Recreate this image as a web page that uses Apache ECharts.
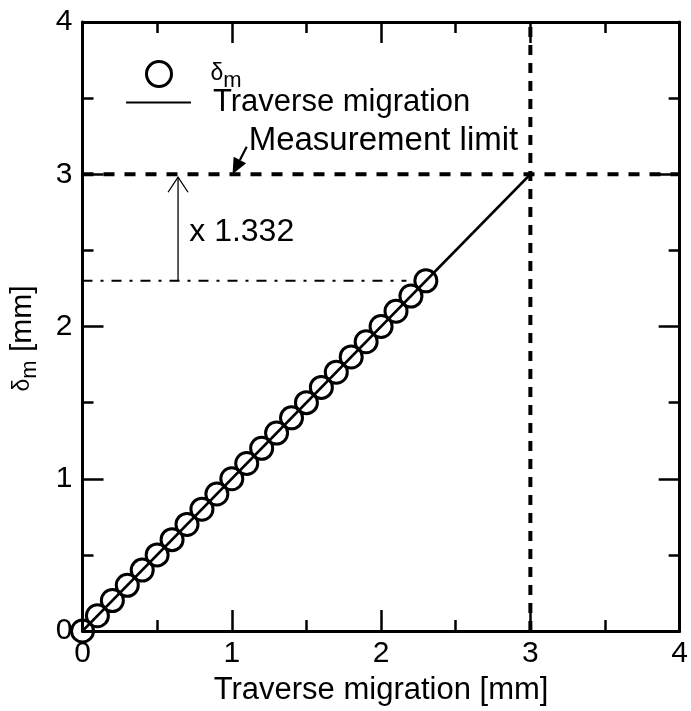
<!DOCTYPE html>
<html><head><meta charset="utf-8">
<script src="https://cdn.jsdelivr.net/npm/echarts@6/dist/echarts.min.js"></script>
<style>html,body{margin:0;padding:0;background:#fff}#c{width:691px;height:711px}</style>
</head><body><div id="c"></div>
<script>
// ---- data ----
const xTicks = [0, 1, 2, 3, 4];
const yTicks = [0, 1, 2, 3, 4];
const migration = [0, 0.1, 0.2, 0.3, 0.4, 0.5, 0.6, 0.7, 0.8, 0.9, 1.0, 1.1, 1.2, 1.3, 1.4, 1.5, 1.6, 1.7, 1.8, 1.9, 2.0, 2.1, 2.2, 2.3];
const deltaM    = [0, 0.1, 0.2, 0.3, 0.4, 0.5, 0.6, 0.7, 0.8, 0.9, 1.0, 1.1, 1.2, 1.3, 1.4, 1.5, 1.6, 1.7, 1.8, 1.9, 2.0, 2.1, 2.2, 2.3];
const lineX = [0, 3];
const lineY = [0, 3];
const limitValue = 3;
const lastDelta = 2.3;
const dashDotEndX = 2.17;
const arrowX = 0.64;
const ratioText = 'x 1.332';
const limitText = 'Measurement limit';

const FONT = 'Liberation Sans, Arial, sans-serif';
const axMin = xTicks[0], axMax = xTicks[xTicks.length - 1];

const chart = echarts.init(document.getElementById('c'), null, {renderer: 'canvas'});

function axisCommon(showLabel, margin) {
  return {
    type: 'value', min: axMin, max: axMax, interval: 1,
    axisLine: {show: true, onZero: false, lineStyle: {color: '#000', width: 3}},
    axisTick: {show: true, inside: true, length: 21, lineStyle: {color: '#000', width: 2.5}},
    minorTick: {show: true, splitNumber: 2, length: 11, lineStyle: {color: '#000', width: 2.5}},
    splitLine: {show: false},
    axisLabel: {show: showLabel, color: '#000', fontSize: 30, fontFamily: FONT, margin: margin || 8},
  };
}

const scatterData = migration.map((x, i) => [x, deltaM[i]]);
const lineData = lineX.map((x, i) => [x, lineY[i]]);

const subRich = {
  g: {width: 34, fontSize: 23},
  d: {fontSize: 23, fontFamily: FONT, color: '#000'},
  s: {fontSize: 22, fontFamily: FONT, color: '#000', padding: [13, 0, 0, 0]},
  b: {fontSize: 30, fontFamily: FONT, color: '#000'}
};

chart.setOption({
  animation: false,
  grid: {left: 81, right: 6, top: 22, bottom: 80},
  legend: [
    {
      left: 145, top: 60, orient: 'vertical', itemWidth: 25, itemHeight: 25, padding: 0,
      itemStyle: {color: 'rgba(0,0,0,0)', borderColor: '#000', borderWidth: 3, opacity: 1},
      textStyle: {color: '#000', fontSize: 23, fontFamily: FONT, rich: subRich},
      formatter: function () { return '{g|}{d|δ}{s|m}'; },
      data: [{name: 'dm'}]
    },
    {
      left: 125, top: 87, orient: 'vertical', itemWidth: 65, itemHeight: 25, padding: 0,
      textStyle: {color: '#000', fontSize: 31, fontFamily: FONT, padding: [0, 0, 0, 17]},
      data: [{name: 'Traverse migration'}]
    }
  ],
  xAxis: [
    Object.assign(axisCommon(true, 8), {position: 'bottom', name: 'Traverse migration [mm]', nameLocation: 'middle', nameGap: 44,
      nameTextStyle: {color: '#000', fontSize: 31, fontFamily: FONT}}),
    Object.assign(axisCommon(false), {position: 'top'})
  ],
  yAxis: [
    Object.assign(axisCommon(true, 10), {position: 'left', name: '{d|δ}{s|m}{b| [mm]}', nameLocation: 'middle', nameGap: 42,
      nameTextStyle: {color: '#000', fontSize: 30, fontFamily: FONT, rich: subRich, padding: [0, 24, 0, 0]}}),
    Object.assign(axisCommon(false), {position: 'right'})
  ],
  series: [
    {
      name: 'Traverse migration', type: 'line', data: lineData, symbol: 'none',
      lineStyle: {color: '#000', width: 2.5}, itemStyle: {color: 'rgba(0,0,0,0)', borderWidth: 0}, z: 3
    },
    {
      name: 'limitH', type: 'line', data: [[axMin, limitValue], [axMax, limitValue]], symbol: 'none',
      lineStyle: {color: '#000', width: 4, type: [11, 10]}, z: 2
    },
    {
      name: 'limitV', type: 'line', data: [[limitValue, axMin], [limitValue, axMax]], symbol: 'none',
      lineStyle: {color: '#000', width: 4, type: [10, 8]}, z: 2
    },
    {
      name: 'dashdot', type: 'line', data: [[axMin, lastDelta], [dashDotEndX, lastDelta]], symbol: 'none',
      lineStyle: {color: '#000', width: 2, type: [10, 8, 3, 8]}, z: 2
    },
    {
      name: 'dm', type: 'scatter', data: scatterData, symbol: 'circle', symbolSize: 22,
      itemStyle: {color: 'rgba(0,0,0,0)', borderColor: '#000', borderWidth: 3, opacity: 1}, z: 4
    }
  ]
});

function px(x, y) { return chart.convertToPixel({gridIndex: 0}, [x, y]); }

const a0 = px(arrowX, lastDelta), a1 = px(arrowX, limitValue);
const mTail = px(1.10, 3.18), mHead = px(1.005, 3.0);
const ang = Math.atan2(mHead[1] - mTail[1], mHead[0] - mTail[0]);
const hl = 16, hw = 7;
const base = [mHead[0] - hl * Math.cos(ang), mHead[1] - hl * Math.sin(ang)];
const nx = -Math.sin(ang), ny = Math.cos(ang);
const rt = px(0.715, 2.62), mt = px(1.113, 3.22);

chart.setOption({
  graphic: [
    {type: 'line', shape: {x1: a0[0], y1: a0[1], x2: a1[0], y2: a1[1] + 3}, style: {stroke: '#000', lineWidth: 1.3}},
    {type: 'polyline', shape: {points: [[a1[0] - 10, a1[1] + 18], [a1[0], a1[1] + 3], [a1[0] + 10, a1[1] + 18]]}, style: {stroke: '#000', lineWidth: 1.3, fill: null}},
    {type: 'line', shape: {x1: mTail[0], y1: mTail[1], x2: base[0], y2: base[1]}, style: {stroke: '#000', lineWidth: 2.2}},
    {type: 'polygon', shape: {points: [mHead, [base[0] + nx * hw, base[1] + ny * hw], [base[0] - nx * hw, base[1] - ny * hw]]}, style: {fill: '#000'}},
    {type: 'text', x: rt[0], y: rt[1], style: {text: ratioText, fill: '#000', font: '32px ' + FONT, verticalAlign: 'middle', align: 'left'}},
    {type: 'text', x: mt[0], y: mt[1], style: {text: limitText, fill: '#000', font: '33px ' + FONT, verticalAlign: 'middle', align: 'left'}}
  ]
});
</script></body></html>
